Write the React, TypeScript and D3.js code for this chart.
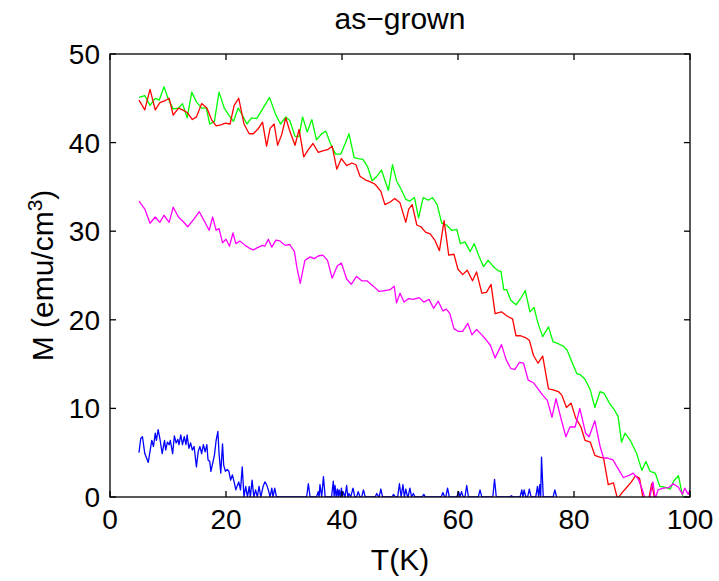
import React from "react";
import * as d3 from "d3";

const title = "as\u2212grown";
const xLabel = "T(K)";
const xTicks = [0, 20, 40, 60, 80, 100];
const yTicks = [0, 10, 20, 30, 40, 50];

const greenData: [number, number][] = [
  [5, 45.1], [6, 45.3], [6.9, 44.2], [7.8, 45.0], [8.5, 44.8], [9.3, 46.3], [10, 45.0], [10.9, 43.8],
  [11.8, 43.9], [12.5, 44.4], [13.3, 42.8], [14.1, 45.7], [14.9, 44.6], [15.8, 43.9], [16.6, 43.9],
  [17.2, 42.1], [18, 42.4], [18.8, 45.7], [19.7, 43.9], [20.5, 43.1], [21.3, 42.4], [22.1, 43.9],
  [22.9, 43.0], [23.6, 42.1], [24.4, 42.8], [25.3, 42.7], [26.4, 43.9], [27.5, 45.1], [28.6, 43.1],
  [29.4, 42.1], [30.3, 42.9], [31, 42.5], [31.9, 40.7], [32.6, 40.7], [33.2, 42.9], [34, 41.2],
  [34.8, 42.6], [35.6, 40.3], [36.5, 41.0], [37.2, 41.3], [38.0, 39.9], [38.9, 38.7], [39.8, 38.7],
  [40.5, 39.8], [41.2, 41.0], [42.1, 38.3], [42.8, 38.2], [43.6, 38.1], [44.4, 37.3], [45.2, 35.7],
  [46, 36.2], [46.8, 36.9], [48, 34.6], [48.7, 37.5], [49.4, 35.7], [50.2, 34.7], [51, 33.6],
  [51.7, 33.4], [52.5, 33.8], [53.2, 31.5], [54, 33.8], [54.9, 33.5], [55.6, 33.8], [56.4, 33.0],
  [57.2, 30.9], [58.0, 30.7], [58.9, 30.1], [59.8, 30.2], [60.4, 28.6], [61.2, 28.8], [62.1, 27.7],
  [62.8, 28.6], [63.6, 27.2], [64.4, 26.0], [65.2, 26.7], [66.1, 26.0], [67, 25.5], [67.4, 25.5],
  [67.9, 23.4], [68.4, 23.4], [69.1, 22.2], [70, 21.7], [70.8, 22.4], [71.6, 23.3], [72.4, 20.9],
  [73.1, 21.4], [73.8, 19.6], [74.6, 18.1], [75.6, 19.2], [76.4, 17.5], [77.3, 17.3], [78.2, 17.0],
  [78.8, 16.6], [79.6, 15.3], [80.5, 13.9], [81.1, 13.8], [81.9, 13.3], [82.8, 12.1], [83.6, 10.1],
  [84.5, 11.9], [85.2, 11.7], [86.1, 10.6], [86.9, 9.9], [87.6, 9.1], [88.2, 6.2], [88.8, 7.2],
  [89.7, 6.4], [90.8, 4.9], [91.7, 3.0], [92.4, 4.0], [93.1, 2.9], [94.0, 2.7], [94.8, 1.2],
  [95.7, 1.1], [96.6, 0.9], [97.2, 1.8], [98.0, 2.4], [98.7, 0.2], [99.2, -0.5], [100, -0.5],
];

const redData: [number, number][] = [
  [5, 44.8], [6, 43.7], [6.9, 46.0], [7.8, 43.7], [8.6, 44.5], [9.4, 44.7], [10.2, 45.0], [10.9, 43.1],
  [11.8, 43.9], [12.5, 43.7], [13.3, 43.4], [14.2, 42.6], [14.9, 42.9], [15.8, 44.4], [16.7, 43.9],
  [17.5, 42.6], [18.3, 41.9], [19.1, 42.0], [19.9, 42.2], [20.7, 42.1], [21.4, 44.2], [22.2, 45.0],
  [23.1, 42.1], [24, 41.0], [24.7, 41.0], [25.6, 41.6], [26.3, 42.3], [27, 39.6], [27.6, 41.6],
  [28.3, 42.1], [28.9, 39.7], [29.6, 40.9], [30.3, 42.8], [31, 41.3], [31.9, 39.7], [32.6, 41.5],
  [33.4, 38.4], [34.2, 39.2], [35, 39.9], [35.9, 38.9], [36.8, 39.1], [37.5, 39.2], [38.3, 39.6],
  [39.1, 37.0], [39.9, 38.2], [40.8, 37.4], [41.7, 37.7], [42.4, 37.5], [43.1, 36.2], [44, 35.8],
  [44.8, 35.6], [45.7, 35.3], [46.7, 34.5], [47.4, 33.0], [48.3, 33.3], [49.1, 33.7], [50, 33.2],
  [51, 31.0], [51.5, 32.5], [52.1, 33.0], [52.9, 30.7], [53.6, 30.5], [54.4, 29.9], [55.2, 29.7],
  [56, 29.0], [56.8, 27.8], [57.6, 31.2], [58.4, 27.3], [59.3, 27.4], [60, 25.7], [60.8, 25.1],
  [61.6, 25.6], [62.5, 24.4], [63.2, 25.4], [64.1, 23.0], [64.9, 23.1], [65.7, 24.0], [66.4, 20.7],
  [67.5, 20.9], [68.5, 20.4], [69.4, 20.1], [70, 18.2], [70.8, 18.2], [71.6, 18.0], [72.3, 17.7],
  [73, 16.0], [73.8, 15.1], [74.6, 15.9], [75.6, 12.2], [76.4, 12.1], [77.3, 11.9], [77.9, 11.5],
  [78.7, 10.1], [79.5, 10.6], [80.3, 8.9], [81.2, 7.9], [81.9, 6.4], [82.8, 6.2], [83.6, 4.7],
  [84.4, 4.5], [85.1, 4.4], [85.9, 1.4], [86.8, 1.6], [87.5, -0.2], [88.3, 0.5], [89.1, 1.1],
  [89.9, 1.7], [90.6, 2.4], [91.3, 2.1], [92.0, -0.5], [92.8, -0.5], [93.4, 1.5], [94.0, -0.5],
  [95, -1], [100, -1],
];

const magentaData: [number, number][] = [
  [5, 33.4], [6, 32.5], [6.9, 30.9], [7.8, 31.6], [8.6, 31.0], [9.3, 31.8], [10.2, 31.0], [10.9, 32.7],
  [11.8, 31.6], [12.6, 31.1], [13.4, 30.5], [14.4, 31.3], [15.4, 32.2], [16.2, 31.2], [17.1, 30.1],
  [17.7, 31.6], [18.3, 30.1], [18.8, 30.3], [19.4, 28.7], [20, 29.1], [20.6, 28.3], [21.2, 29.8],
  [21.7, 28.6], [22.4, 28.9], [23.3, 28.4], [24, 28.1], [24.7, 27.9], [25.6, 28.2], [26.3, 28.4],
  [26.7, 28.3], [27.3, 29.1], [27.9, 28.2], [28.6, 29.0], [29.3, 28.9], [30.2, 28.4], [31.0, 28.5],
  [31.8, 27.7], [32.2, 26.0], [32.8, 24.1], [33.6, 26.7], [34.5, 27.1], [35.2, 26.9], [35.9, 27.2],
  [36.7, 27.3], [37.5, 26.7], [38.3, 24.7], [39.2, 26.1], [39.9, 26.4], [40.8, 24.6], [41.6, 24.0],
  [42.5, 24.9], [43.4, 24.4], [44.3, 24.4], [45.4, 23.8], [46.4, 23.2], [47.4, 23.3], [48.3, 23.4],
  [49, 23.8], [49.4, 21.9], [50, 23.0], [50.7, 22.0], [51.5, 22.4], [52.3, 22.3], [53.3, 22.5],
  [54.1, 22.0], [55.0, 22.3], [55.8, 21.3], [56.6, 22.1], [57.4, 21.0], [58.0, 21.2], [58.6, 20.7],
  [59.3, 19.0], [60, 18.7], [60.8, 18.7], [61.7, 19.6], [62.4, 18.3], [63.2, 18.9], [64.1, 18.3],
  [64.8, 17.8], [65.6, 17.1], [66.4, 15.7], [67.5, 17.2], [68.3, 15.5], [69.1, 14.5], [69.8, 14.4],
  [70.6, 15.2], [71.3, 15.1], [72.1, 13.2], [73, 12.9], [73.8, 12.2], [74.6, 11.5], [75.4, 10.9],
  [76.2, 9.0], [76.9, 11.1], [77.7, 9.0], [78.6, 6.8], [79.3, 7.9], [80.2, 7.9], [81, 10.0],
  [82, 7.2], [82.6, 6.8], [83.6, 8.6], [84.5, 5.7], [85.1, 4.4], [85.8, 4.4], [86.7, 4.2],
  [87.6, 3.2], [88.5, 2.2], [89.4, 2.4], [90.2, 2.7], [91.1, 2.0], [91.8, 0.8], [92.3, -0.3],
  [93.0, -0.3], [93.6, 1.7], [94.0, -0.2], [94.5, 0.8], [95.4, 1.0], [96.3, 1.05], [97.1, 1.5],
  [98, 1.1], [98.7, 0.3], [99.1, 1.0], [99.7, 0.3], [100, 0.8],
];

const blueData: [number, number][] = [
  [5.0, 5.0], [5.3, 6.6], [5.6, 6.8], [6.0, 4.9], [6.6, 3.9], [7.2, 6.4], [7.5, 5.7], [7.8, 7.2],
  [8.0, 6.4], [8.3, 7.6], [8.6, 6.6], [9.0, 4.9], [9.4, 6.4], [9.6, 5.3], [9.9, 6.2], [10.2, 5.9],
  [10.4, 6.4], [10.8, 4.9], [11.1, 6.9], [11.4, 6.1], [11.7, 6.5], [11.9, 5.9], [12.2, 7.0],
  [12.5, 5.9], [12.8, 6.8], [13.1, 5.9], [13.3, 7.0], [13.6, 5.5], [13.9, 6.1], [14.2, 5.3],
  [14.5, 5.7], [14.9, 3.4], [15.2, 5.1], [15.5, 5.7], [15.8, 4.9], [16.1, 5.9], [16.4, 5.1],
  [16.7, 5.9], [16.9, 4.2], [17.2, 4.0], [17.4, 2.9], [17.7, 3.8], [18.0, 4.7], [18.3, 6.4],
  [18.6, 7.4], [18.8, 4.9], [19.1, 2.7], [19.4, 6.0], [19.6, 3.6], [19.9, 2.9], [20.2, 3.1],
  [20.5, 2.9], [20.8, 1.9], [21.1, 2.5], [21.4, 1.7], [21.7, 0.8], [21.9, 1.2], [22.2, 1.7],
  [22.5, 0.8], [22.8, 3.4], [23.1, 0], [23.4, 1.2], [23.7, 0], [24.0, 1.2], [24.2, 0], [24.5, 1.9],
  [24.8, 0], [25.1, 0.8], [25.4, 0], [25.7, 1.2], [26.0, 0], [26.4, 1.2], [26.7, 1.7], [27.0, 1.4],
  [27.3, 0.8], [27.6, 0], [27.9, 1.0], [28.1, 0], [28.4, 1.0], [28.7, 0], [29, 0],
  [33.9, 0], [34.2, 1.5], [34.5, 0], [35.6, 0], [35.9, 0.6], [36.05, 0], [36.2, 1.4], [36.5, 0],
  [36.8, 2.3], [37.1, 0], [38.2, 0], [38.5, 1.8], [38.65, 0], [38.8, 1.3], [39.0, 0], [39.2, 0.9],
  [39.35, 0], [39.5, 0.8], [39.7, 0], [39.9, 1.0], [40.05, 0], [40.2, 0.6], [40.5, 0], [40.8, 1.3],
  [41.0, 0], [41.2, 0.4], [41.5, 0], [41.9, 1.0], [42.2, 0], [42.5, 0], [42.8, 0.6], [43.1, 0],
  [43.4, 0], [43.7, 0.8], [44.0, 0], [45.7, 0], [46.0, 0.4], [46.3, 0], [46.4, 0], [46.7, 0.9],
  [47.0, 0], [48.6, 0], [48.9, 0.3], [49.2, 0], [49.6, 0], [49.9, 1.5], [50.2, 0], [50.5, 1.4],
  [50.75, 0], [51.0, 0.9], [51.3, 0], [51.4, 0], [51.7, 1.0], [52.0, 0], [52.3, 0.4], [52.6, 0],
  [53.8, 0], [54.1, 0.3], [54.4, 0], [57.1, 0], [57.4, 0.5], [57.7, 0], [57.9, 0], [58.2, 1.0],
  [58.5, 0], [59.8, 0], [60.1, 0.6], [60.35, 0], [60.6, 0.6], [60.9, 0], [61.2, 0], [61.5, 1.3],
  [61.8, 0], [63.5, 0], [63.8, 0.8], [64.1, 0], [66.0, 0], [66.3, 2.0], [66.6, 0], [68.9, 0],
  [69.2, 0.15], [69.5, 0], [70.7, 0], [71.0, 0.8], [71.2, 0], [71.4, 0.8], [71.7, 0], [72.0, 0],
  [72.3, 0.9], [72.6, 0], [73.4, 0], [73.7, 1.2], [73.9, 0], [74.1, 1.4], [74.25, 0], [74.4, 4.5],
  [74.7, 0], [76.4, 0], [76.7, 0.8], [77.0, 0],
];

const series = [
  { name: "green", color: "#00ff00", data: greenData },
  { name: "red", color: "#ff0000", data: redData },
  { name: "magenta", color: "#ff00ff", data: magentaData },
  { name: "blue", color: "#0000ff", data: blueData },
];

export default function App() {
  const W = 719, H = 581;
  const left = 110, right = 690, top = 54, bottom = 497;
  const x = d3.scaleLinear().domain([0, 100]).range([left, right]);
  const y = d3.scaleLinear().domain([0, 50]).range([bottom, top]);
  const line = d3.line<[number, number]>().x(d => x(d[0])).y(d => y(d[1]));
  const font = "'Liberation Sans', Arial, Helvetica, sans-serif";
  const fs = 28;
  const lfs = 30;
  const tl = 6;
  return (
    <svg width={W} height={H} style={{ position: "absolute", left: 0, top: 0, display: "block", background: "#fff" }}
      fontFamily={font}>
      <defs>
        <clipPath id="plotclip">
          <rect x={left} y={top} width={right - left} height={bottom - top} />
        </clipPath>
      </defs>
      <rect x={0} y={0} width={W} height={H} fill="#fff" />
      <g clipPath="url(#plotclip)">
        {series.map(s => (
          <path key={s.name} d={line(s.data) || ""} fill="none" stroke={s.color} strokeWidth={1.3} strokeLinejoin="round" />
        ))}
      </g>
      <g stroke="#000" strokeWidth={1.3}>
        {xTicks.map(t => (
          <g key={"xt" + t}>
            <line x1={x(t)} x2={x(t)} y1={bottom} y2={bottom - tl} />
            <line x1={x(t)} x2={x(t)} y1={top} y2={top + tl} />
          </g>
        ))}
        {yTicks.map(t => (
          <g key={"yt" + t}>
            <line x1={left} x2={left + tl} y1={y(t)} y2={y(t)} />
            <line x1={right} x2={right - tl} y1={y(t)} y2={y(t)} />
          </g>
        ))}
        <rect x={left} y={top} width={right - left} height={bottom - top} fill="none" />
      </g>
      <g fill="#000">
        {xTicks.map(t => (
          <text key={"xl" + t} x={x(t)} y={bottom + 32} fontSize={fs} textAnchor="middle">{t}</text>
        ))}
        {yTicks.map(t => (
          <text key={"yl" + t} x={left - 10} y={y(t) + 10} fontSize={fs} textAnchor="end">{t}</text>
        ))}
        <text x={(left + right) / 2} y={29} fontSize={lfs} textAnchor="middle">{title}</text>
        <text x={(left + right) / 2} y={570} fontSize={lfs} textAnchor="middle">{xLabel}</text>
        <text transform={`translate(53, ${(top + bottom) / 2}) rotate(-90)`} fontSize={lfs} textAnchor="middle">
          M (emu/cm<tspan baselineShift="super" fontSize={lfs * 0.7}>3</tspan>)
        </text>
      </g>
    </svg>
  );
}
